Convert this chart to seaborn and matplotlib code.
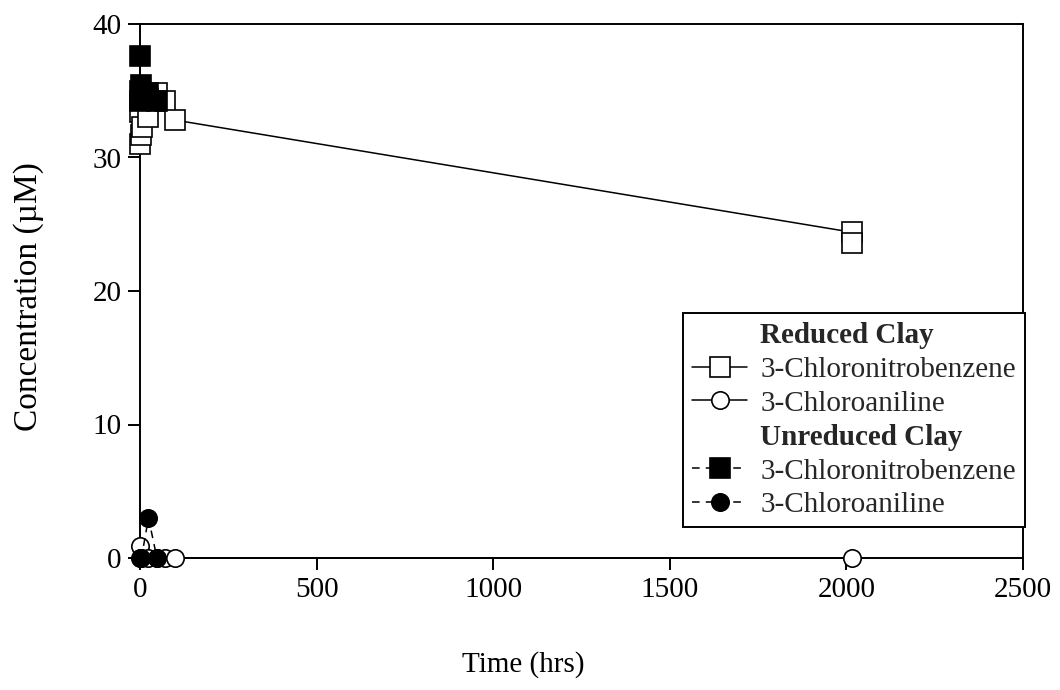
import matplotlib
matplotlib.use("Agg")
import matplotlib.pyplot as plt
from matplotlib.lines import Line2D
import seaborn as sns

# ---- data ----
t_red_cnb = [0, 0, 2, 6, 24, 48, 72, 100, 2016, 2016]
c_red_cnb = [31.0, 33.4, 31.7, 32.3, 33.0, 34.8, 34.2, 32.8, 24.4, 23.6]

t_red_ca = [0, 4, 24, 48, 72, 100, 2016]
c_red_ca = [0.9, 0.0, 0.0, 0.0, 0.0, 0.0, 0.0]

t_unr_cnb = [0, 0, 0, 4, 24, 24, 48]
c_unr_cnb = [37.6, 35.0, 34.2, 35.4, 34.8, 34.4, 34.2]

t_unr_ca = [0, 4, 24, 48]
c_unr_ca = [0.0, 0.0, 3.0, 0.0]

x_ticks = [0, 500, 1000, 1500, 2000, 2500]
y_ticks = [0, 10, 20, 30, 40]

sns.set_theme(style="ticks")
plt.rcParams["font.family"] = ["Liberation Serif", "DejaVu Serif"]

fig = plt.figure(figsize=(10.6, 6.9), dpi=100)
ax = fig.add_axes([140/1060, 1-558/690, (1023-140)/1060, (558-24)/690])

lw = 1.1
mew = 1.2
dash = (0, (5, 4))
ms_sq = 14
ms_ci = 12.5

sns.lineplot(x=t_red_cnb, y=c_red_cnb, estimator=None, sort=False, ax=ax,
             color="black", linewidth=lw, marker="s", markersize=ms_sq,
             markerfacecolor="white", markeredgecolor="black", markeredgewidth=mew,
             clip_on=False, zorder=3)
sns.lineplot(x=t_red_ca, y=c_red_ca, estimator=None, sort=False, ax=ax,
             color="black", linewidth=lw, marker="o", markersize=ms_ci,
             markerfacecolor="white", markeredgecolor="black", markeredgewidth=mew,
             clip_on=False, zorder=3)
sns.lineplot(x=t_unr_cnb, y=c_unr_cnb, estimator=None, sort=False, ax=ax,
             color="black", linewidth=lw, linestyle=dash, marker="s", markersize=ms_sq,
             markerfacecolor="black", markeredgecolor="black", markeredgewidth=mew,
             clip_on=False, zorder=4)
sns.lineplot(x=t_unr_ca, y=c_unr_ca, estimator=None, sort=False, ax=ax,
             color="black", linewidth=lw, linestyle=dash, marker="o", markersize=ms_ci,
             markerfacecolor="black", markeredgecolor="black", markeredgewidth=mew,
             clip_on=False, zorder=4)

ax.set_xlim(0, 2500)
ax.set_ylim(0, 40)
ax.set_xticks(x_ticks)
ax.set_yticks(y_ticks)
ax.tick_params(axis="both", direction="out", length=8.5, width=1.4,
               labelsize=21, color="black", labelcolor="black", pad=5,
               top=False, right=False)
for s in ax.spines.values():
    s.set_visible(True)
    s.set_linewidth(1.4)
    s.set_color("black")

ax.set_xlabel("Time (hrs)", fontsize=21, color="black")
ax.xaxis.set_label_coords((523-140)/883, -(651-558)/534)
ax.set_ylabel("Concentration (µM)", fontsize=24, color="black")
ax.yaxis.set_label_coords(-(140-44)/883, 0.49)

# legend
blank = Line2D([], [], linestyle="none", marker=None)
h1 = Line2D([], [], color="black", lw=lw, marker="s", markersize=ms_sq,
            markerfacecolor="white", markeredgecolor="black", markeredgewidth=mew)
h2 = Line2D([], [], color="black", lw=lw, marker="o", markersize=ms_ci,
            markerfacecolor="white", markeredgecolor="black", markeredgewidth=mew)
h3 = Line2D([], [], color="black", lw=lw, linestyle=dash, marker="s", markersize=ms_sq,
            markerfacecolor="black", markeredgecolor="black", markeredgewidth=mew)
h4 = Line2D([], [], color="black", lw=lw, linestyle=dash, marker="o", markersize=ms_ci,
            markerfacecolor="black", markeredgecolor="black", markeredgewidth=mew)
labels = ["Reduced Clay", "3-Chloronitrobenzene", "3-Chloroaniline",
          "Unreduced Clay", "3-Chloronitrobenzene", "3-Chloroaniline"]
leg = ax.legend([blank, h1, h2, blank, h3, h4], labels,
                loc="lower right", bbox_to_anchor=(1.002, 0.058),
                borderaxespad=0, fontsize=21, frameon=True, fancybox=False,
                edgecolor="black", framealpha=1, handlelength=1.9,
                handletextpad=0.45, labelspacing=0.25, borderpad=0.3)
leg.get_frame().set_linewidth(1.4)
for i in (0, 3):
    leg.get_texts()[i].set_fontweight("bold")

fig.savefig("out.png", dpi=100, facecolor="white")
